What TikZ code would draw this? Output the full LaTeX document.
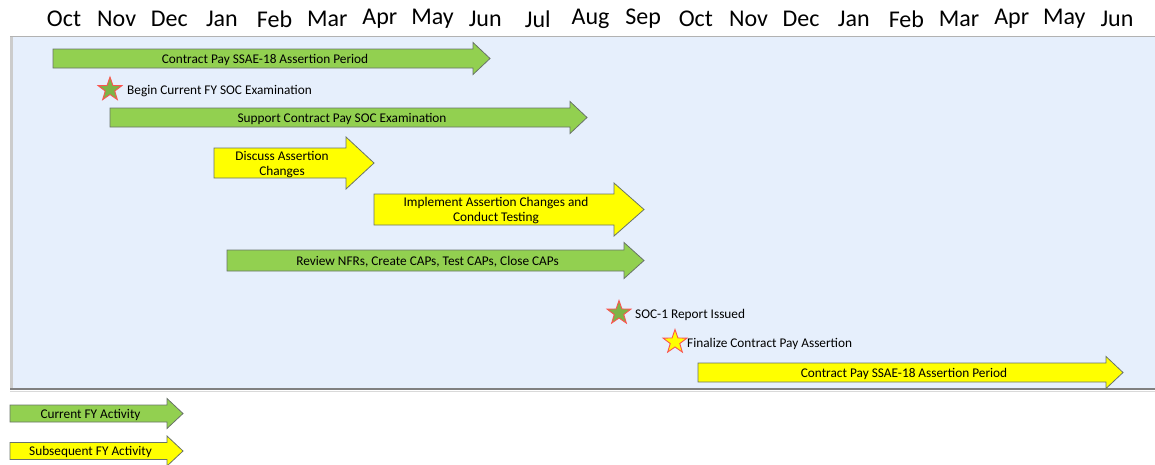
\documentclass[tikz,border=0pt]{standalone}
\usepackage{fontspec}
\setmainfont{Carlito}
\usetikzlibrary{positioning, shapes.geometric}

\definecolor{actgreen}{RGB}{146,208,80}
\definecolor{actyellow}{RGB}{255,255,0}
\definecolor{panelblue}{RGB}{230,239,252}
\definecolor{barline}{RGB}{105,115,105}
\definecolor{starred}{RGB}{250,85,80}
\definecolor{stargreen}{RGB}{125,180,70}

% bar: name, x start, x end, y centre, body half, head half, head length, colour, text
\newcommand{\phasebar}[9]{%
	\draw[barline, line width=0.8pt, fill=#8] (#2,{#4-#5}) -- ({#3-#7},{#4-#5}) -- ({#3-#7},{#4-#6}) -- (#3,#4)
	-- ({#3-#7},{#4+#6}) -- ({#3-#7},{#4+#5}) -- (#2,{#4+#5}) -- cycle;
	\node[bartext] (#1) at ({(#2+#3-#7)/2+2},#4) {#9};}

\begin{document}
\begin{tikzpicture}[x=1pt, y=-1pt,
	month/.style={font=\fontsize{24}{26}\selectfont, inner sep=0pt},
	bartext/.style={font=\fontsize{13.3}{15}\selectfont, align=center, inner sep=0pt, yshift=-1.2pt},
	notetext/.style={font=\fontsize{13.3}{15}\selectfont, inner sep=0pt, yshift=-1.5pt},
	milestone/.style={star, star points=5, star point ratio=2.5, minimum size=25pt, inner sep=0pt, draw=starred, line width=0.9pt}]
	\useasboundingbox (0,0) rectangle (1155,464);
	
	% Month header
	\foreach \m [count=\i from 0] in {Oct,Nov,Dec,Jan,Feb,Mar,Apr,May,Jun,Jul,Aug,Sep,Oct,Nov,Dec,Jan,Feb,Mar,Apr,May,Jun}
	\node[month] (m\i) at ({64+52.65*\i},19) {\m};
	
	% Background panel
	\fill[panelblue] (10,37) rectangle (1155,389);
	\draw[gray!60, line width=0.8pt] (10,36.5) -- (1155,36.5);
	\draw[gray!40, line width=3pt] (11,37) -- (11,389);
	\draw[gray, line width=2.5pt] (10,389) -- (1155,389);
	\draw[gray!30, line width=1.5pt] (10,391.5) -- (1155,391.5);
	
	% Activities
	\phasebar{assertcur}{53}{490}{58.5}{9.5}{16}{17}{actgreen}{Contract Pay SSAE-18 Assertion Period}
	\phasebar{supportsoc}{110}{587}{117.5}{9.5}{16}{17}{actgreen}{Support Contract Pay SOC Examination}
	\phasebar{discuss}{214}{374}{163}{15}{26}{28}{actyellow}{Discuss Assertion\\Changes}
	\phasebar{implement}{374}{644}{209.5}{15.5}{26.5}{30}{actyellow}{Implement Assertion Changes and\\Conduct Testing}
	\phasebar{reviewnfr}{227}{644}{260.5}{10.5}{18}{20}{actgreen}{Review NFRs, Create CAPs, Test CAPs, Close CAPs}
	\phasebar{assertnext}{698}{1123}{372.5}{9.5}{16}{17}{actyellow}{Contract Pay SSAE-18 Assertion Period}
	
	% Milestones
	\node[milestone, fill=stargreen] (socbegin) at (110,89.5) {};
	\node[notetext, right=5pt of socbegin.center, xshift=12pt] (socbegintxt) {Begin Current FY SOC Examination};
	\node[milestone, fill=stargreen] (socissued) at (619,313) {};
	\node[notetext, right=5pt of socissued.center, xshift=11pt] (socissuedtxt) {SOC-1 Report Issued};
	\node[milestone, fill=actyellow] (finalize) at (675,342) {};
	\node[notetext, right=5pt of finalize.center, xshift=7pt] (finalizetxt) {Finalize Contract Pay Assertion};
	
	% Legend
	\phasebar{legcur}{10}{183}{413.5}{8.5}{15}{16}{actgreen}{Current FY Activity}
	\phasebar{legnext}{10}{183}{451}{8.5}{15}{16}{actyellow}{Subsequent FY Activity}
\end{tikzpicture}
\end{document}
